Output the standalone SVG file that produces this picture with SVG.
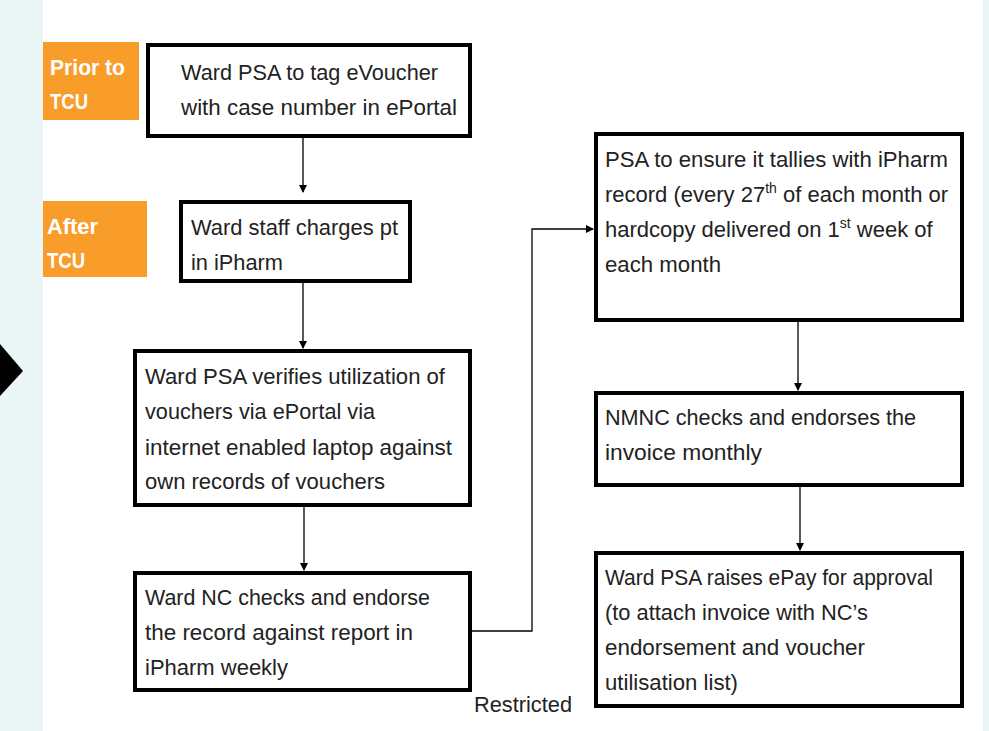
<svg xmlns="http://www.w3.org/2000/svg" width="989" height="731" viewBox="0 0 989 731">
<style>
.box{fill:#fff;stroke:#000;stroke-width:4}
.t{font-family:"Liberation Sans",Arial,sans-serif;font-size:22px;fill:#222}
.o{font-family:"Liberation Sans",Arial,sans-serif;font-size:22px;font-weight:bold;fill:#fff}
.c{fill:none;stroke:#000;stroke-width:1.3}
</style>
<defs>
<marker id="ah" markerWidth="8" markerHeight="8" refX="7" refY="4" orient="auto" markerUnits="userSpaceOnUse">
<path d="M0,0 L8,4 L0,8 Z" fill="#000"/>
</marker>
</defs>
<rect width="989" height="731" fill="#fff"/>
<rect x="0" y="0" width="43" height="731" fill="#ebf7f7"/>
<rect x="983" y="0" width="6" height="731" fill="#ebf7f7"/>
<polygon points="0,344 23,371 0,396" fill="#000"/>

<g id="connectors">
<path class="c" d="M303,137 V192" marker-end="url(#ah)"/>
<path class="c" d="M303,282 V348" marker-end="url(#ah)"/>
<path class="c" d="M304,506 V570" marker-end="url(#ah)"/>
<path class="c" d="M471,631 H532 V229 H593" marker-end="url(#ah)"/>
<path class="c" d="M798,321 V390" marker-end="url(#ah)"/>
<path class="c" d="M800,486 V550" marker-end="url(#ah)"/>
</g>

<g id="prior">
<rect x="43" y="42" width="96" height="78" fill="#f89c2a"/>
<text class="o" x="50" y="75" textLength="75" lengthAdjust="spacingAndGlyphs">Prior to</text>
<text class="o" x="50" y="109" textLength="38" lengthAdjust="spacingAndGlyphs">TCU</text>
</g>
<g id="after">
<rect x="43" y="201" width="104" height="76" fill="#f89c2a"/>
<text class="o" x="47" y="234" textLength="51" lengthAdjust="spacingAndGlyphs">After</text>
<text class="o" x="47" y="268" textLength="38" lengthAdjust="spacingAndGlyphs">TCU</text>
</g>

<g id="nodeA">
<rect class="box" x="148" y="45" width="322" height="91"/>
<text class="t" x="181" y="80" textLength="257" lengthAdjust="spacingAndGlyphs">Ward PSA to tag eVoucher</text>
<text class="t" x="181" y="115" textLength="276" lengthAdjust="spacingAndGlyphs">with case number in ePortal</text>
</g>
<g id="nodeB">
<rect class="box" x="181" y="202" width="229" height="79"/>
<text class="t" x="191" y="235" textLength="207" lengthAdjust="spacingAndGlyphs">Ward staff charges pt</text>
<text class="t" x="191" y="270" textLength="92" lengthAdjust="spacingAndGlyphs">in iPharm</text>
</g>
<g id="nodeC">
<rect class="box" x="135" y="351" width="335" height="154"/>
<text class="t" x="145" y="384" textLength="300" lengthAdjust="spacingAndGlyphs">Ward PSA verifies utilization of</text>
<text class="t" x="145" y="419" textLength="230" lengthAdjust="spacingAndGlyphs">vouchers via ePortal via</text>
<text class="t" x="145" y="455" textLength="307" lengthAdjust="spacingAndGlyphs">internet enabled laptop against</text>
<text class="t" x="145" y="489" textLength="240" lengthAdjust="spacingAndGlyphs">own records of vouchers</text>
</g>
<g id="nodeD">
<rect class="box" x="135" y="573" width="335" height="117"/>
<text class="t" x="145" y="605" textLength="285" lengthAdjust="spacingAndGlyphs">Ward NC checks and endorse</text>
<text class="t" x="145" y="640" textLength="268" lengthAdjust="spacingAndGlyphs">the record against report in</text>
<text class="t" x="145" y="675" textLength="143" lengthAdjust="spacingAndGlyphs">iPharm weekly</text>
</g>
<g id="nodeE">
<rect class="box" x="596" y="134" width="366" height="186"/>
<text class="t" x="605" y="167" textLength="343" lengthAdjust="spacingAndGlyphs">PSA to ensure it tallies with iPharm</text>
<text class="t" x="605" y="202">record (every 27<tspan font-size="14" dy="-9">th</tspan><tspan dy="9"> of each month or</tspan></text>
<text class="t" x="605" y="237">hardcopy delivered on 1<tspan font-size="14" dy="-9">st</tspan><tspan dy="9"> week of</tspan></text>
<text class="t" x="605" y="272" textLength="116" lengthAdjust="spacingAndGlyphs">each month</text>
</g>
<g id="nodeF">
<rect class="box" x="596" y="393" width="366" height="92"/>
<text class="t" x="605" y="425" textLength="311" lengthAdjust="spacingAndGlyphs">NMNC checks and endorses the</text>
<text class="t" x="605" y="460" textLength="157" lengthAdjust="spacingAndGlyphs">invoice monthly</text>
</g>
<g id="nodeG">
<rect class="box" x="596" y="553" width="366" height="153"/>
<text class="t" x="605" y="585" textLength="328" lengthAdjust="spacingAndGlyphs">Ward PSA raises ePay for approval</text>
<text class="t" x="605" y="620" textLength="263" lengthAdjust="spacingAndGlyphs">(to attach invoice with NC’s</text>
<text class="t" x="605" y="655" textLength="260" lengthAdjust="spacingAndGlyphs">endorsement and voucher</text>
<text class="t" x="605" y="690" textLength="133" lengthAdjust="spacingAndGlyphs">utilisation list)</text>
</g>
<text class="t" x="474" y="712" textLength="98" lengthAdjust="spacingAndGlyphs">Restricted</text>
</svg>
